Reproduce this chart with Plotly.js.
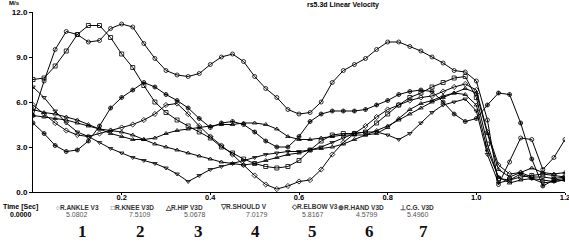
<!DOCTYPE html>
<html>
<head>
<meta charset="utf-8">
<script src="https://cdn.plot.ly/plotly-3.0.1.min.js"></script>
<style>
html,body{margin:0;padding:0;background:#fff;}
#chart{width:569px;height:244px;}
</style>
</head>
<body>
<div id="chart"></div>
<script>
// ---- data ----
const timeSec = [0,0.025,0.05,0.075,0.1,0.125,0.15,0.175,0.2,0.225,0.25,0.275,0.3,0.325,0.35,0.375,0.4,0.425,0.45,0.475,0.5,0.525,0.55,0.575,0.6,0.625,0.65,0.675,0.7,0.725,0.75,0.775,0.8,0.825,0.85,0.875,0.9,0.925,0.95,0.975,1.0,1.025,1.05,1.075,1.1,1.125,1.15,1.175,1.2];

const ankleV = [5.1,7.4,9.5,10.7,10.5,10.0,10.1,10.9,11.2,11.0,
                9.9,8.9,8.1,7.8,7.7,7.9,8.5,9.0,9.2,8.7,
                7.7,6.9,6.3,5.5,5.2,5.3,6.0,7.3,8.1,8.5,
                8.9,9.5,10.0,10.0,9.7,9.4,9.0,8.6,8.1,
                8.0,7.4,4.8,0.5,2.0,3.6,3.5,1.5,2.3,3.5];
const kneeV  = [7.5,7.6,8.4,9.4,10.5,11.1,11.1,10.3,9.2,8.3,
                7.1,6.0,5.3,4.8,4.4,4.0,3.6,3.0,2.6,2.2,
                1.9,1.7,1.6,1.7,2.1,2.8,3.4,3.8,3.9,3.9,
                4.0,4.6,5.2,5.8,6.3,6.6,7.0,7.3,7.6,
                7.7,6.3,3.2,0.9,0.8,1.0,1.1,1.2,1.1,1.0];
const hipV   = [5.1,5.0,4.9,4.8,4.6,4.4,4.2,4.1,4.0,3.8,
                3.5,3.2,3.0,2.8,2.6,2.4,2.2,2.0,1.9,1.8,
                1.9,2.1,2.3,2.5,2.6,2.8,2.9,3.0,3.2,3.5,
                3.8,4.1,4.4,4.8,5.2,5.6,6.0,6.3,6.6,
                6.9,6.6,3.9,1.5,1.0,1.3,1.6,1.3,1.2,1.3];
const shoulderV = [7.0,6.3,5.4,4.6,4.0,3.7,3.3,2.9,2.6,2.3,
                2.1,1.9,1.6,1.2,0.7,1.1,1.5,1.7,1.9,2.1,
                2.3,2.5,2.6,2.7,2.7,2.8,3.0,3.3,3.6,3.9,
                4.0,4.0,3.8,3.5,3.9,4.6,5.3,5.8,6.0,
                6.2,5.4,2.5,0.6,0.8,1.2,0.9,0.6,0.7,0.8];
const elbowV = [5.8,5.2,4.6,4.1,3.8,3.7,3.9,4.1,4.3,4.5,
                4.8,5.2,5.8,5.9,5.2,4.4,3.7,3.1,2.5,1.8,
                1.1,0.5,0.2,0.4,0.7,0.8,1.5,2.5,3.3,3.9,
                4.4,5.0,5.5,5.8,6.1,6.3,6.4,6.7,7.0,
                7.2,6.8,4.0,1.8,1.2,1.3,1.0,1.0,0.9,1.0];
const handV  = [4.6,3.9,3.1,2.7,2.8,3.4,4.4,5.6,6.3,6.8,
                7.3,7.0,6.5,6.1,5.6,4.9,4.3,4.6,4.7,4.5,
                4.0,3.4,3.0,3.0,3.7,4.7,5.2,5.4,5.4,5.4,
                5.5,5.8,6.1,6.5,6.7,6.8,6.7,6.0,5.2,
                4.7,4.9,5.8,6.6,6.5,4.6,2.2,0.4,0.8,0.9];
const cgV    = [5.5,5.3,5.2,5.0,4.8,4.5,4.2,3.9,3.7,3.5,
                3.5,3.6,3.9,4.1,4.2,4.3,4.4,4.5,4.5,4.6,
                4.6,4.5,4.2,3.7,3.5,3.5,3.6,3.7,3.8,3.8,
                3.8,3.9,4.3,4.9,5.5,5.9,6.1,6.4,6.6,
                6.5,5.8,2.8,1.0,0.6,0.8,0.9,0.8,0.7,0.8];

const seriesNames  = ["R.ANKLE V3","R.KNEE V3D","R.HIP V3D","R.SHOULD V","R.ELBOW V3","R.HAND V3D","C.G. V3D"];
const legendGlyphs = ["\u25CB","\u25A1","\u25B3","\u25BD","\u25C7","\u2295","\u22A5"];
const legendValues = ["5.0802","7.5109","5.0678","7.0179","5.8167","4.5799","5.4960"];
const legendNumbers = ["1","2","3","4","5","6","7"];
const yTickVals = [0,3,6,9,12];
const yTickText = ["0.0","3.0","6.0","9.0","12.0"];
const xTickVals = [0.2,0.4,0.6,0.8,1.0,1.2];
const xTickText = ["0.2","0.4","0.6","0.8","1.0","1.2"];
const titleText = "rs5.3d Linear Velocity";
const unitText = "M/s";
const timeLabel = "Time [Sec]";
const timeValue = "0.0000";

// ---- styles / positions ----
const seriesValues = [ankleV,kneeV,hipV,shoulderV,elbowV,handV,cgV];
const symbols = ["circle-open","square-open","triangle-up-open","triangle-down-open","diamond-open","circle-cross-open","triangle-up-open"];

const traces = seriesValues.map((vals,i)=>({
  type:"scatter", mode:"lines+markers", x:timeSec, y:vals, name:seriesNames[i],
  line:{color:"#000", width:1},
  marker:{symbol:symbols[i], size:4, color:"#000", line:{color:"#000", width:0.8}},
  hoverinfo:"skip"
}));

const L=33, T=12, W=532, H=180;
function P(px,py){ return {x:(px-L)/W, y:(T+H-py)/H}; }
function ann(text,px,py,font){
  const p=P(px,py);
  return {text:text, xref:"paper", yref:"paper", x:p.x, y:p.y, xanchor:"center", yanchor:"middle",
          showarrow:false, font:font};
}
const sans = "Liberation Sans, Arial, sans-serif";
const annotations = [];
annotations.push(ann(titleText,343,5,{family:sans,size:7,color:"#000",weight:"bold"}));
annotations.push(ann(unitText,14,3,{family:sans,size:6,color:"#000",weight:"bold"}));
annotations.push(ann(timeLabel,20,207,{family:sans,size:7,color:"#000",weight:"bold"}));
annotations.push(ann(timeValue,21,214,{family:sans,size:7,color:"#000",weight:"bold"}));
const nameX = [77,132,184,243,314,361,417];
const valX  = [77,140,195,257,313,367,418];
const numX  = [82,140,198,255,312,369,423];
for(let i=0;i<seriesNames.length;i++){
  annotations.push(ann(legendGlyphs[i]+seriesNames[i],nameX[i],207,{family:sans,size:6.5,color:"#333",weight:"bold"}));
  annotations.push(ann(legendValues[i],valX[i],214,{family:sans,size:7,color:"#555"}));
  annotations.push(ann(legendNumbers[i],numX[i],231,{family:"Liberation Serif, serif",size:17,color:"#111",weight:"bold"}));
}

const layout = {
  width:569, height:244,
  margin:{l:L, r:569-L-W, t:T, b:244-T-H, pad:0},
  paper_bgcolor:"#fff", plot_bgcolor:"#fff",
  showlegend:false,
  xaxis:{range:[0,1.2], tickvals:xTickVals, ticktext:xTickText, showgrid:false, zeroline:false,
         showline:true, linecolor:"#000", linewidth:1, ticks:"outside", ticklen:2, tickcolor:"#000",
         ticklabelstandoff:-4, ticklabeloverflow:"allow",
         tickfont:{family:sans,size:7.5,color:"#000",weight:"bold"}},
  yaxis:{range:[0,12], tickvals:yTickVals, ticktext:yTickText, showgrid:false, zeroline:false,
         showline:true, linecolor:"#000", linewidth:1, ticks:"outside", ticklen:3, tickcolor:"#000",
         tickfont:{family:sans,size:8,color:"#000",weight:"bold"}},
  annotations:annotations
};
Plotly.newPlot("chart", traces, layout, {staticPlot:true, displayModeBar:false});
</script>
</body>
</html>
